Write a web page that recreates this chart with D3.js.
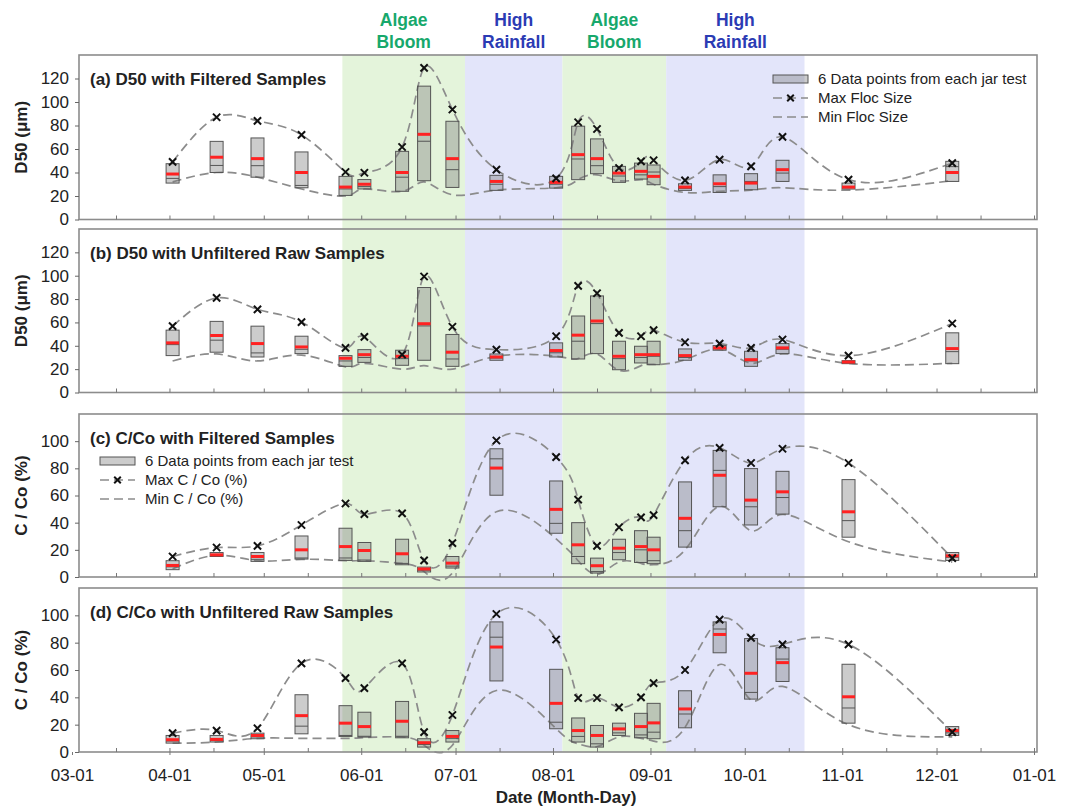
<!DOCTYPE html>
<html>
<head>
<meta charset="utf-8">
<script src="https://cdn.jsdelivr.net/npm/d3@7"></script>
<style>
  body { margin: 0; background: #fff; }
  svg { font-family: Arial, "Liberation Sans", sans-serif; }
</style>
</head>
<body>
<script>
// sampling dates (month-day, 2013)
var dates = ["04-02","04-16","04-29","05-13","05-27","06-02","06-14","06-21","06-30","07-14","08-02",
             "08-09","08-15","08-22","08-29","09-02","09-12","09-23","10-03","10-13","11-03","12-06"];

var bandStart = ["05-26","07-04","08-04","09-06"];
var bandEnd   = ["07-04","08-04","09-06","10-20"];
var bandLabel = [["Algae","Bloom"],["High","Rainfall"],["Algae","Bloom"],["High","Rainfall"]];
var bandKind  = ["algae","rain","algae","rain"];

var monthTicks = ["03-01","04-01","05-01","06-01","07-01","08-01","09-01","10-01","11-01","12-01","01-01"];

// (a) D50 filtered
var aHi   = [47.5,66.5,69.4,57.5,36.7,34,58,113.5,83.6,37.6,36.7,79.4,68.6,45.2,48,46.4,30.4,38,39,50.4,31,49.5];
var aLo   = [31,40,36,27,20.5,26,24,33,27.3,24.8,26.7,33.9,39,31.6,34.4,29.6,24.8,23,25.3,32.4,25.9,32.4];
var aMean = [38.7,53,51.8,40,27.6,30,40,72.5,51.8,32.4,31.6,55.2,51.8,39.5,41,36.7,27.6,30.4,31,42.4,27.6,40];
var aMed  = [35,46,45.8,29,26,28,36,66.6,42.4,30,30,51.5,45.8,37,38,40.4,26.5,28,32.4,39.5,27,45];
var aMax  = [49,87,84,72,40.4,39.8,61.7,129,93.6,42.4,35,82.8,77,43.8,49.5,50.4,33.3,51,45.2,70.3,33.9,48];
var aMin  = [32,40,36,26,20,26,24,32,21,25,27,34,38,33,34,30,23,24,25,27,25,33];

// (b) D50 unfiltered raw
var bHi   = [53.4,60.9,56.8,48.2,31.6,36.7,36.2,89.9,49.7,33,42.5,65.5,82.7,43.9,39.6,43.9,37.3,40.2,35.3,41.9,27.3,51.1];
var bLo   = [31.6,34.5,30.4,33.3,22.4,25.8,23.3,27.6,22.4,27.6,30.4,28.7,33.3,19.5,25.3,23.8,27.6,36.2,22.4,33.3,24.7,24.7];
var bMean = [42.5,48.8,41.9,39,29.3,32.4,31,58.9,34.5,30.4,35.9,49.1,61.2,31,32.4,32.4,31.6,38.2,28.1,38.2,26.1,37.6];
var bMed  = [41,44.8,33.9,37,27,30,29,57,28.7,29.5,34,43.9,59,29,30,31,30,37.5,27,37,25.5,35];
var bMax  = [56.8,81,71.2,60.3,38.2,47.7,32.4,99.3,56.3,36.7,48.2,91.3,85,51.1,48.2,53.4,43,41.9,38.2,45.4,31.6,59.1];
var bMin  = [27,33,27,32,22,25,20,23,20,31,31,29,33,19,23,24,28,37,25,33,25,25];

// (c) C/Co filtered
var cHi   = [12,18,18,30.2,35.9,25.4,27.8,7.3,15.1,94.4,70.7,40,13.9,27.8,34.1,29.3,70,93.2,79.8,77.8,71.7,18];
var cLo   = [5.4,15.1,11.5,13.2,12.2,11.5,9,3.7,6.6,60.2,32.2,9.8,2.9,12.7,10.7,9.8,22,51.7,38.3,46.3,29.3,12.2];
var cMean = [8.5,16.3,15.1,20,22.4,19.5,17.1,5.9,10.2,80.2,49.8,23.7,8.3,21.2,22.4,20,43.2,74.9,56.6,62.7,48,15.6];
var cMed  = [7.5,16,13,14,14,12.5,10,5,8,87,39.5,15.1,4,18,20,12,34.1,78.5,51.7,58.5,41.5,14.5];
var cMax  = [15.1,21.7,22.9,38.3,54.1,46.3,46.8,12.2,24.9,100.5,88.3,57,22.9,36.6,43.9,45.6,85.9,95.1,83.9,94.4,83.9,13.9];
var cMin  = [6,16,12,13,12,12,10,4,3,48,28,12,2,11,10,9,20,52,34,46,26,11];

// (d) C/Co unfiltered raw
var dHi   = [12.1,12.1,13.8,41.9,33.9,29.1,37,9.7,15.7,95.2,60.5,24.9,19.4,21.1,28.3,35.6,44.8,95.2,83,76.3,64.2,18.6];
var dLo   = [6.5,7.3,9.7,13.3,11.4,10.9,10.4,3.6,7.3,52,17,7.3,3.6,12.1,10.4,9.7,17.7,72.6,38.7,51.6,21.1,12.1];
var dMean = [9,9.2,12.1,26.6,21.1,18.6,22.5,6.8,11.4,76.8,35.6,15.7,12.1,16.9,18.6,21.3,31.5,86,57.6,65.4,40.4,15.7];
var dMed  = [8,8.5,11,18.9,12.1,11.5,11.5,5.5,10,84,21.8,11.4,6,14,12.5,14.5,27.8,90,43.6,68,32.2,14];
var dMax  = [13.8,15.7,17.4,64.9,54,46.7,64.9,14.5,27.1,101,82.3,39.5,39.5,32.7,40,50.4,60,96.9,83.5,78.7,78.7,14.5];
var dMin  = [6.5,7.3,10,10,10,10.5,11,5,5,45,17,6,4,11,10,8,18,64,38,48,20,11];

var d50Ticks = [0,20,40,60,80,100,120];
var ccoTicks = [0,20,40,60,80,100];

var w = 1071, h = 809;
var left = 79, right = 1037;

function toDate(md) {
    var yr = md == "01-01" ? 2014 : 2013;
    return new Date(yr, +md.slice(0,2) - 1, +md.slice(3,5));
}

var x = d3.scaleTime()
    .domain([new Date(2013,2,1), new Date(2014,0,1)])
    .range([72, 1034]);

var panels = [
    {top: 55,  bottom: 219.5, ymax: 140, ticks: d50Ticks, title: "(a) D50 with Filtered Samples",
     ylab: "D50 (\u03bcm)", hi: aHi, lo: aLo, mean: aMean, med: aMed, max: aMax, min: aMin},
    {top: 229, bottom: 392.5, ymax: 140, ticks: d50Ticks, title: "(b) D50 with Unfiltered Raw Samples",
     ylab: "D50 (\u03bcm)", hi: bHi, lo: bLo, mean: bMean, med: bMed, max: bMax, min: bMin},
    {top: 414, bottom: 577, ymax: 120, ticks: ccoTicks, title: "(c) C/Co with Filtered Samples",
     ylab: "C / Co (%)", hi: cHi, lo: cLo, mean: cMean, med: cMed, max: cMax, min: cMin},
    {top: 588, bottom: 752, ymax: 120, ticks: ccoTicks, title: "(d) C/Co with Unfiltered Raw Samples",
     ylab: "C / Co (%)", hi: dHi, lo: dLo, mean: dMean, med: dMed, max: dMax, min: dMin}
];

var svg = d3.select("body").append("svg").attr("width", w).attr("height", h);

var bandFill = {algae: "#e4f4db", rain: "#e3e5fa"};
var bandText = {algae: "#17a86c", rain: "#2b3bb4"};

// shaded periods across all panels
svg.selectAll("rect.band")
    .data(bandStart)
    .enter()
    .append("rect")
    .attr("class", "band")
    .attr("x", function(d) { return x(toDate(d)); })
    .attr("width", function(d, i) { return x(toDate(bandEnd[i])) - x(toDate(d)); })
    .attr("y", 55)
    .attr("height", 752 - 55)
    .attr("fill", function(d, i) { return bandFill[bandKind[i]]; });

// period labels on top
bandStart.forEach(function(s, i) {
    var cx = (x(toDate(s)) + x(toDate(bandEnd[i]))) / 2;
    var t = svg.append("text")
        .attr("x", cx)
        .attr("text-anchor", "middle")
        .attr("font-size", "17.5px")
        .attr("font-weight", "bold")
        .attr("fill", bandText[bandKind[i]]);
    t.append("tspan").attr("x", cx).attr("y", 26).text(bandLabel[i][0]);
    t.append("tspan").attr("x", cx).attr("y", 48).text(bandLabel[i][1]);
});

var boxW = 13;
var dateObjs = dates.map(toDate);

panels.forEach(function(p, pi) {
    var y = d3.scaleLinear().domain([0, p.ymax]).range([p.bottom, p.top]);
    var g = svg.append("g");

    // frame
    g.append("rect")
        .attr("x", left).attr("y", p.top)
        .attr("width", right - left).attr("height", p.bottom - p.top)
        .attr("fill", "none").attr("stroke", "#8c8c8c").attr("stroke-width", 1.6);

    // y axis
    var ya = g.append("g")
        .attr("transform", "translate(" + left + ",0)")
        .call(d3.axisLeft(y).tickValues(p.ticks).tickSize(4).tickPadding(6));
    ya.select(".domain").remove();
    ya.selectAll("line").attr("stroke", "#666");
    ya.selectAll("text").attr("font-size", "17px").attr("fill", "#222").attr("font-family", "Arial, sans-serif");

    // x axis ticks (inside)
    var minor = d3.timeDay.range(new Date(2013,2,2), new Date(2014,0,2))
        .filter(function(d) { return d.getDate() == 1 || d.getDate() == 15; });
    var xa = g.append("g")
        .attr("transform", "translate(0," + p.bottom + ")")
        .call(d3.axisBottom(x).tickValues(minor).tickSize(-4).tickFormat(""));
    xa.select(".domain").remove();
    xa.selectAll("line").attr("stroke", "#777");

    if (pi == 3) {
        var xl = g.append("g")
            .attr("transform", "translate(0," + p.bottom + ")")
            .call(d3.axisBottom(x).tickValues(monthTicks.map(toDate)).tickSize(3).tickPadding(14)
                .tickFormat(d3.timeFormat("%m-%d")));
        xl.select(".domain").remove();
        xl.selectAll("line").attr("stroke", "#777");
        xl.selectAll("text").attr("font-size", "17px").attr("fill", "#222").attr("font-family", "Arial, sans-serif");
    }

    // y title
    g.append("text")
        .attr("transform", "translate(27," + (p.top + p.bottom) / 2 + ") rotate(-90)")
        .attr("text-anchor", "middle")
        .attr("font-size", "17px")
        .attr("font-weight", "bold")
        .attr("fill", "#222")
        .text(p.ylab);

    // panel title
    g.append("text")
        .attr("x", 90).attr("y", p.top + 30)
        .attr("font-size", "17px").attr("font-weight", "bold").attr("fill", "#222")
        .text(p.title);

    // min / max spline lines
    var line = d3.line()
        .x(function(d, i) { return x(dateObjs[i]); })
        .y(function(d) { return y(d); })
        .curve(d3.curveNatural);

    [p.max, p.min].forEach(function(arr) {
        g.append("path")
            .attr("d", line(arr))
            .attr("fill", "none")
            .attr("stroke", "#8c8c8c")
            .attr("stroke-width", 1.7)
            .attr("stroke-dasharray", "9,5");
    });

    // boxes
    g.selectAll("rect.box")
        .data(p.hi)
        .enter()
        .append("rect")
        .attr("class", "box")
        .attr("x", function(d, i) { return x(dateObjs[i]) - boxW / 2; })
        .attr("y", function(d) { return y(d); })
        .attr("width", boxW)
        .attr("height", function(d, i) { return y(p.lo[i]) - y(d); })
        .attr("fill", "rgba(120,120,120,0.38)")
        .attr("stroke", "#555")
        .attr("stroke-width", 1);

    g.selectAll("line.med")
        .data(p.med)
        .enter()
        .append("line")
        .attr("x1", function(d, i) { return x(dateObjs[i]) - boxW / 2; })
        .attr("x2", function(d, i) { return x(dateObjs[i]) + boxW / 2; })
        .attr("y1", function(d) { return y(d); })
        .attr("y2", function(d) { return y(d); })
        .attr("stroke", "#555").attr("stroke-width", 1);

    g.selectAll("line.mean")
        .data(p.mean)
        .enter()
        .append("line")
        .attr("x1", function(d, i) { return x(dateObjs[i]) - boxW / 2; })
        .attr("x2", function(d, i) { return x(dateObjs[i]) + boxW / 2; })
        .attr("y1", function(d) { return y(d); })
        .attr("y2", function(d) { return y(d); })
        .attr("stroke", "#ff2222").attr("stroke-width", 3);

    // max markers
    g.selectAll("path.xm")
        .data(p.max)
        .enter()
        .append("path")
        .attr("d", d3.symbol().type(d3.symbolX).size(36))
        .attr("transform", function(d, i) { return "translate(" + x(dateObjs[i]) + "," + y(d) + ")"; })
        .attr("fill", "none")
        .attr("stroke", "#111")
        .attr("stroke-width", 2);
});

// legends
function legend(lx, ly, labels) {
    var g = svg.append("g");
    g.append("rect")
        .attr("x", lx).attr("y", ly - 4).attr("width", 35).attr("height", 8)
        .attr("fill", "rgba(120,120,120,0.38)").attr("stroke", "#555").attr("stroke-width", 1);
    [1, 2].forEach(function(k) {
        g.append("line")
            .attr("x1", lx).attr("x2", lx + 35)
            .attr("y1", ly + k * 19).attr("y2", ly + k * 19)
            .attr("stroke", "#8c8c8c").attr("stroke-width", 1.7).attr("stroke-dasharray", "9,5");
    });
    g.append("path")
        .attr("d", d3.symbol().type(d3.symbolX).size(30))
        .attr("transform", "translate(" + (lx + 17.5) + "," + (ly + 19) + ")")
        .attr("fill", "none").attr("stroke", "#111").attr("stroke-width", 2);
    g.selectAll("text")
        .data(labels)
        .enter()
        .append("text")
        .attr("x", lx + 45)
        .attr("y", function(d, i) { return ly + i * 19 + 5; })
        .attr("font-size", "15px")
        .attr("fill", "#222")
        .text(function(d) { return d; });
}

legend(773, 79, ["6 Data points from each jar test", "Max Floc Size", "Min Floc Size"]);
legend(100, 461, ["6 Data points from each jar test", "Max C / Co (%)", "Min C / Co (%)"]);

// x title
svg.append("text")
    .attr("x", 566).attr("y", 803)
    .attr("text-anchor", "middle")
    .attr("font-size", "17px")
    .attr("font-weight", "bold")
    .attr("fill", "#222")
    .text("Date (Month-Day)");
</script>
</body>
</html>
